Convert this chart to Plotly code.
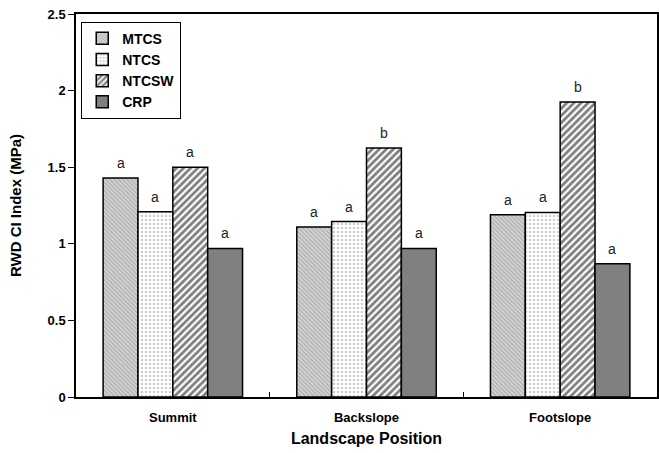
import plotly.graph_objects as go

categories = ["Summit", "Backslope", "Footslope"]
series_names = ["MTCS", "NTCS", "NTCSW", "CRP"]
mtcs = [1.43, 1.11, 1.19]
ntcs = [1.21, 1.145, 1.205]
ntcsw = [1.50, 1.625, 1.925]
crp = [0.97, 0.97, 0.87]
letters_mtcs = ["a", "a", "a"]
letters_ntcs = ["a", "a", "a"]
letters_ntcsw = ["a", "b", "b"]
letters_crp = ["a", "a", "a"]
y_ticks = [0, 0.5, 1, 1.5, 2, 2.5]
y_ticklabels = ["0", "0.5", "1", "1.5", "2", "2.5"]

values = [mtcs, ntcs, ntcsw, crp]
letters = [letters_mtcs, letters_ntcs, letters_ntcsw, letters_crp]
styles = [
    dict(color="#d0d0d0", pattern=dict(shape="\\", fgcolor="#7c7c7c", bgcolor="#d4d4d4", size=3, solidity=0.35)),
    dict(color="white", pattern=dict(shape=".", fgcolor="#999999", bgcolor="white", size=4, solidity=0.3)),
    dict(color="white", pattern=dict(shape="/", fgcolor="#000000", bgcolor="white", size=5, solidity=0.55)),
    dict(color="#808080"),
]

BARGAP = 0.28
FONT = "Liberation Sans, Arial, sans-serif"
fig = go.Figure()
n = len(series_names)
bar_w = (1 - BARGAP) / n
annotations = []
for i, (name, vals, lab, st) in enumerate(zip(series_names, values, letters, styles)):
    marker = dict(line=dict(color="black", width=1.5), **st)
    fig.add_trace(go.Bar(x=categories, y=vals, name=name, marker=marker))
    off = -(1 - BARGAP) / 2 + bar_w * (i + 0.5)
    for j, (v, t) in enumerate(zip(vals, lab)):
        annotations.append(dict(
            x=j + off, y=v, xref="x", yref="y", text=t, showarrow=False,
            yanchor="bottom", yshift=5,
            font=dict(family=FONT, size=14, color="#222"),
        ))

fig.update_layout(
    width=659, height=453,
    margin=dict(l=76, r=2, t=14, b=56, autoexpand=False),
    paper_bgcolor="white", plot_bgcolor="white",
    barmode="group", bargap=BARGAP, bargroupgap=0,
    font=dict(family=FONT, color="black"),
    showlegend=True,
    annotations=annotations,
    legend=dict(
        x=0.009, y=0.98, xanchor="left", yanchor="top",
        bordercolor="black", borderwidth=1, bgcolor="white",
        font=dict(family=FONT, size=14, color="black", weight="bold"),
        tracegroupgap=0, itemwidth=30,
    ),
    xaxis=dict(
        automargin=False,
        showline=True, linecolor="black", linewidth=1.5, mirror=True,
        ticks="inside", tickson="boundaries", ticklen=5, tickcolor="black",
        ticklabelstandoff=8,
        tickfont=dict(family=FONT, size=13, color="black", weight="bold"),
        title=dict(text="Landscape Position", font=dict(family=FONT, size=16, color="black", weight="bold"), standoff=8),
    ),
    yaxis=dict(
        automargin=False,
        range=[0, 2.5], tickvals=y_ticks, ticktext=y_ticklabels,
        showline=True, linecolor="black", linewidth=1.5, mirror=True,
        ticks="outside", ticklen=6, tickcolor="black", showgrid=False, zeroline=False,
        tickfont=dict(family=FONT, size=13, color="black", weight="bold"),
        title=dict(text="RWD CI Index (MPa)", font=dict(family=FONT, size=15, color="black", weight="bold"), standoff=22),
    ),
)

fig.write_html("out.html", config={"displayModeBar": False},
               post_script="document.body.style.margin='0';")
